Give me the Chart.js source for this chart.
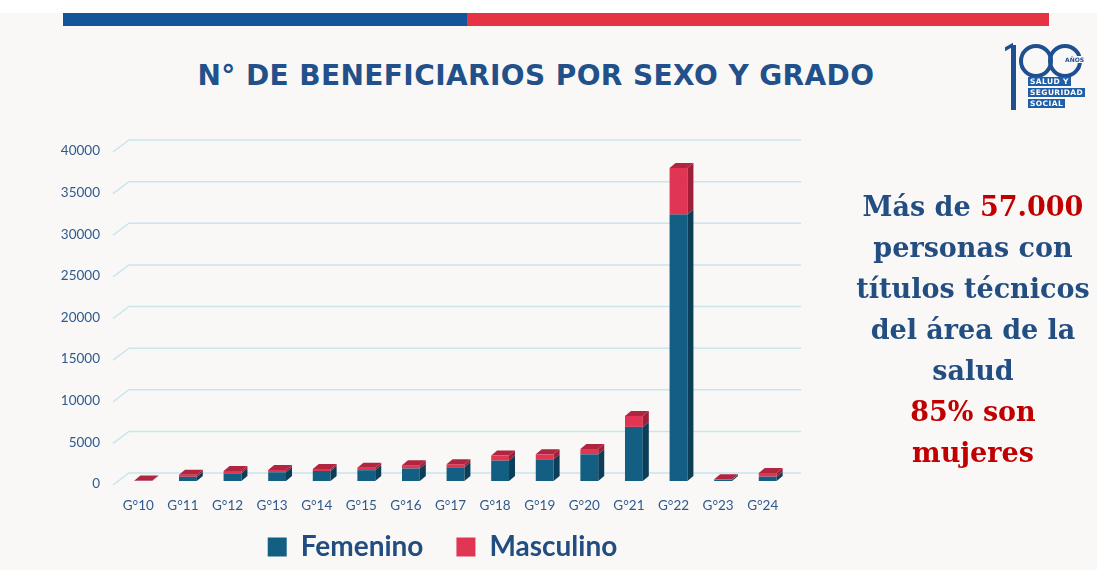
<!DOCTYPE html>
<html>
<head>
<meta charset="utf-8">
<script src="https://cdn.jsdelivr.net/npm/chart.js@4.4.1/dist/chart.umd.min.js"></script>
<style>
  html, body { margin: 0; padding: 0; }
  body {
    width: 1097px; height: 570px; position: relative; overflow: hidden;
    background: #f9f8f6; font-family: Lato, sans-serif;
  }
  #topWhite { position: absolute; left: 0; top: 0; width: 1097px; height: 13px; background: #fff; }
  #stripeBlue { position: absolute; left: 63px; top: 13px; width: 404px; height: 13px; background: #13559a; }
  #stripeRed { position: absolute; left: 467px; top: 13px; width: 582px; height: 13px; background: #e63344; }
  #title {
    position: absolute; left: 0; top: 59px; width: 1072px; text-align: center;
    font: bold 28px 'DejaVu Sans', sans-serif; color: #21508a; letter-spacing: 0.4px;
  }
  #chart { position: absolute; left: 0; top: 0; }
  #note {
    position: absolute; left: 846px; top: 186px; width: 254px; text-align: center;
    font: bold 27px 'DejaVu Serif', serif; line-height: 41px; color: #234e82;
  }
  #note .red { color: #c00000; }
  /* logo */
  #logo { position: absolute; left: 1006px; top: 42px; width: 90px; height: 70px; }
  #logo .one { position: absolute; left: 5px; top: 3px; width: 5px; height: 65px; background: #1d4f91; }
  #logo .one:before { content: ''; position: absolute; left: -6px; top: 0; width: 8px; height: 4px; background: #1d4f91; transform: skewY(-30deg); }
  #logo .zero { position: absolute; top: 2px; width: 26px; height: 26px; border: 4px solid #1d4f91; border-radius: 50%; }
  #logo .anos { position: absolute; left: 58px; top: 14px; font: bold 6px 'DejaVu Sans', sans-serif; color: #1d4f91; background: #f9f8f6; padding: 0 1px; }
  #logo .tag { position: absolute; left: 22px; height: 9px; line-height: 9px; padding: 0 2px; background: #1f5fa8; color: #fff; font: bold 7.5px 'DejaVu Sans', sans-serif; letter-spacing: 0.4px; }
</style>
</head>
<body>
<div id="topWhite"></div>
<div id="stripeBlue"></div>
<div id="stripeRed"></div>
<div id="title">N° DE BENEFICIARIOS POR SEXO Y GRADO</div>
<canvas id="chart" width="1097" height="570"></canvas>
<div id="note">Más de <span class="red">57.000</span><br>personas con<br>títulos técnicos<br>del área de la<br>salud<br><span class="red">85% son<br>mujeres</span></div>
<div id="logo">
  <div class="one"></div>
  <div class="zero" style="left:13px"></div>
  <div class="zero" style="left:42px"></div>
  <div class="anos">AÑOS</div>
  <div class="tag" style="top:35px">SALUD Y</div>
  <div class="tag" style="top:46px">SEGURIDAD</div>
  <div class="tag" style="top:57px">SOCIAL</div>
</div>
<script>
const grados = ['G°10', 'G°11', 'G°12', 'G°13', 'G°14', 'G°15', 'G°16', 'G°17',
  'G°18', 'G°19', 'G°20', 'G°21', 'G°22', 'G°23', 'G°24'];
const femenino = [20, 500, 920, 1050, 1200, 1300, 1500, 1650, 2450, 2600, 3200, 6500, 32000, 150, 520];
const masculino = [40, 250, 280, 280, 250, 300, 400, 360, 600, 600, 640, 1320, 5600, 60, 450];
const yMax = 40000;
const yStep = 5000;

const frontColors = ['#135f83', '#e03553'];
const sideColors = ['#0c3e57', '#9f1f38'];
const topColor = '#b0253f';
const depthX = 6;
const depthY = 5;
const tickColor = '#2e5a8e';
const tickFont = '13.5px Lato';

// Fake 3D: back-wall gridlines + side/top faces on the bars
const bar3d = {
  id: 'bar3d',
  beforeDatasetsDraw(chart) {
    const { ctx, chartArea, scales: { y } } = chart;
    ctx.save();
    ctx.strokeStyle = '#c9e5ee';
    ctx.lineWidth = 1.5;
    y.ticks.forEach(t => {
      const py = y.getPixelForValue(t.value);
      ctx.beginPath();
      ctx.moveTo(chartArea.left - 8, py + 4);
      ctx.lineTo(chartArea.left + 8, py - 8);
      ctx.lineTo(chartArea.right + 11, py - 8);
      ctx.stroke();
    });
    ctx.restore();
  },
  afterDatasetsDraw(chart) {
    const { ctx } = chart;
    const last = chart.data.datasets.length - 1;
    ctx.save();
    chart.data.datasets.forEach((ds, di) => {
      chart.getDatasetMeta(di).data.forEach(bar => {
        const { x, y, base, width } = bar.getProps(['x', 'y', 'base', 'width'], true);
        const l = x - width / 2;
        const r = x + width / 2;
        ctx.fillStyle = sideColors[di];
        ctx.beginPath();
        ctx.moveTo(r, y);
        ctx.lineTo(r + depthX, y - depthY);
        ctx.lineTo(r + depthX, base - depthY);
        ctx.lineTo(r, base);
        ctx.closePath();
        ctx.fill();
        if (di === last) {
          ctx.fillStyle = topColor;
          ctx.beginPath();
          ctx.moveTo(l, y);
          ctx.lineTo(l + depthX, y - depthY);
          ctx.lineTo(r + depthX, y - depthY);
          ctx.lineTo(r, y);
          ctx.closePath();
          ctx.fill();
        }
      });
    });
    ctx.restore();
  },
  // tick labels sit on the front plane, slightly off the bar positions
  afterDraw(chart) {
    const { ctx, chartArea, scales: { x, y } } = chart;
    ctx.save();
    ctx.fillStyle = tickColor;
    ctx.font = tickFont;
    ctx.textBaseline = 'middle';
    ctx.textAlign = 'right';
    y.ticks.forEach(t => {
      ctx.fillText(String(t.value), chartArea.left - 21, y.getPixelForValue(t.value) + 3);
    });
    ctx.textAlign = 'center';
    x.ticks.forEach(t => {
      ctx.fillText(grados[t.value], x.getPixelForValue(t.value) - 5, chartArea.bottom + 25);
    });
    ctx.restore();
  },
};

Chart.defaults.font.family = 'Lato';

new Chart(document.getElementById('chart'), {
  type: 'bar',
  data: {
    labels: grados,
    datasets: [
      { label: 'Femenino', data: femenino, backgroundColor: frontColors[0], borderWidth: 0 },
      { label: 'Masculino', data: masculino, backgroundColor: frontColors[1], borderWidth: 0 },
    ],
  },
  options: {
    responsive: false,
    animation: false,
    barPercentage: 0.4,
    categoryPercentage: 1,
    layout: { padding: { left: 95, right: 307, top: 148, bottom: 0 } },
    plugins: {
      title: { display: false },
      tooltip: { enabled: false },
      legend: {
        position: 'bottom',
        maxHeight: 70,
        labels: {
          boxWidth: 19,
          boxHeight: 19,
          padding: 33,
          color: '#214d80',
          font: { size: 28, weight: 'bold' },
        },
      },
    },
    scales: {
      x: {
        stacked: true,
        grid: { display: false },
        border: { display: false },
        ticks: { display: false, autoSkip: false },
        afterFit: s => { s.height = 19; },
      },
      y: {
        stacked: true,
        min: 0,
        max: yMax,
        grid: { display: false },
        border: { display: false },
        ticks: { stepSize: yStep, display: false },
        afterFit: s => { s.width = 26; },
      },
    },
  },
  plugins: [bar3d],
});
</script>
</body>
</html>
